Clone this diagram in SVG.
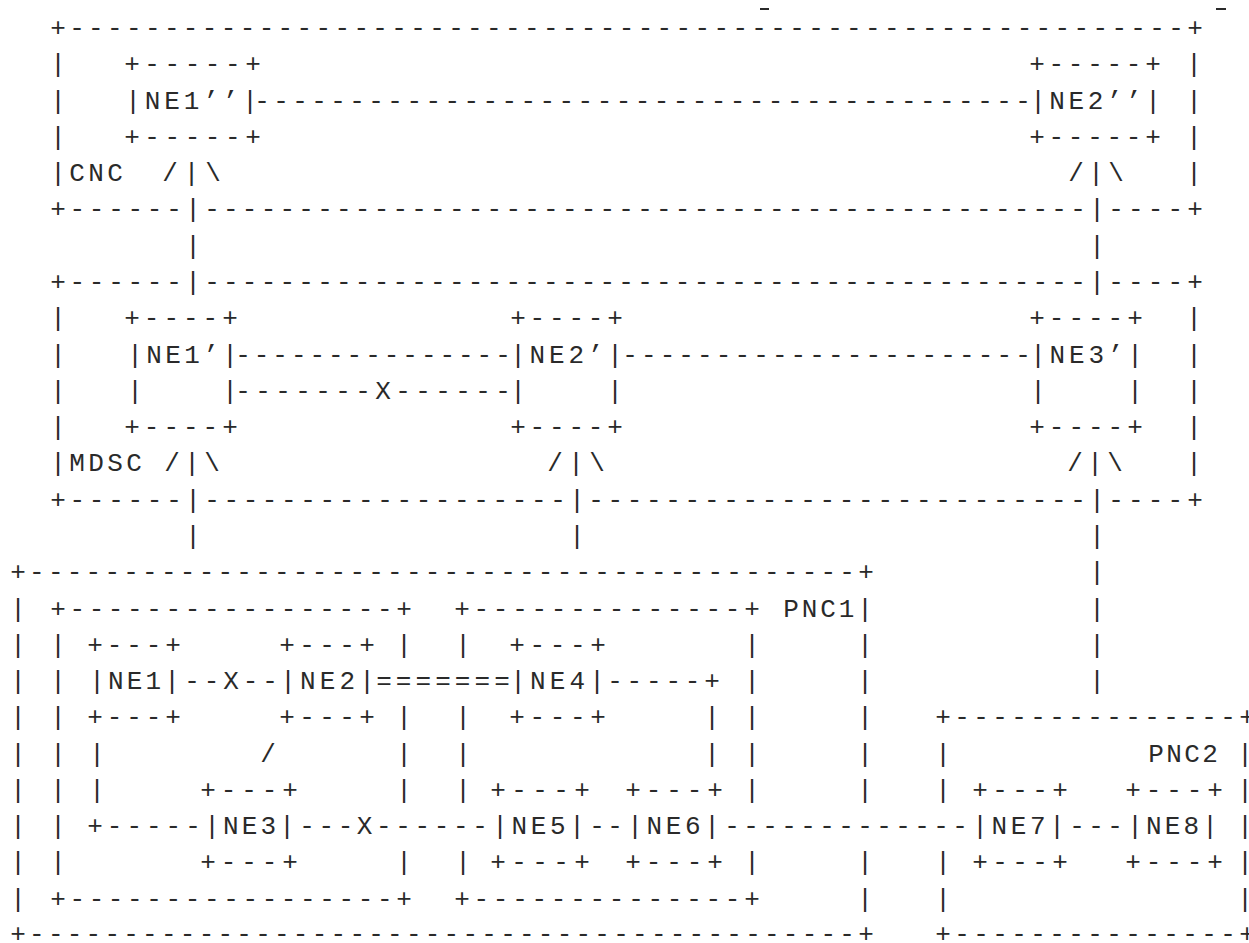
<svg xmlns="http://www.w3.org/2000/svg" width="1249" height="943" viewBox="0 0 1249 943">
<style>
.t{font-family:"Liberation Mono","DejaVu Sans Mono",monospace;font-size:26px;fill:#2a2a2a}
.frag{fill:#2a2a2a}
</style>
<rect width="1249" height="943" fill="#ffffff"/>
<g id="top-fragments">
<rect class="frag" x="760" y="8" width="9" height="2"/>
<rect class="frag" x="1216" y="8" width="10" height="2"/>
</g>
<g id="cnc">
<text class="t" x="50.2" y="36" textLength="1152.6">+-----------------------------------------------------------+</text>
<text class="t" x="50.2" y="72.3">|</text><text class="t" x="1186.2" y="72.3">|</text>
<text class="t" x="50.2" y="108.6">|</text><text class="t" x="1186.2" y="108.6">|</text>
<text class="t" x="50.2" y="144.8">|</text><text class="t" x="1186.2" y="144.8">|</text>
<text class="t" x="50.2" y="181.1" textLength="72.6">|CNC</text><text class="t" x="1186.2" y="181.1">|</text>
<text class="t" x="50.2" y="217.4" textLength="131.6">+------</text>
<text class="t" x="204.2" y="217.4" textLength="881.6">-----------------------------------------------</text>
<text class="t" x="1108.2" y="217.4" textLength="94.6">----+</text>
</g>
<g id="ne1pp">
<text class="t" x="124.2" y="72.3" textLength="136.6">+-----+</text>
<text class="t" x="125.2" y="108.6" textLength="132.6">|NE1’’|</text>
<text class="t" x="124.2" y="144.8" textLength="136.6">+-----+</text>
</g>
<g id="ne2pp">
<text class="t" x="1029.2" y="72.3" textLength="131.6">+-----+</text>
<text class="t" x="1030.2" y="108.6" textLength="130.6">|NE2’’|</text>
<text class="t" x="1029.2" y="144.8" textLength="131.6">+-----+</text>
</g>
<g id="mdsc">
<text class="t" x="50.2" y="290" textLength="131.6">+------</text>
<text class="t" x="204.2" y="290" textLength="881.6">-----------------------------------------------</text>
<text class="t" x="1108.2" y="290" textLength="94.6">----+</text>
<text class="t" x="50.2" y="326.2">|</text><text class="t" x="1186.2" y="326.2">|</text>
<text class="t" x="50.2" y="362.5">|</text><text class="t" x="1186.2" y="362.5">|</text>
<text class="t" x="50.2" y="398.8">|</text><text class="t" x="1186.2" y="398.8">|</text>
<text class="t" x="50.2" y="435.1">|</text><text class="t" x="1186.2" y="435.1">|</text>
<text class="t" x="50.2" y="471.4" textLength="91.6">|MDSC</text><text class="t" x="1186.2" y="471.4">|</text>
<text class="t" x="50.2" y="507.6" textLength="131.6">+------</text>
<text class="t" x="204.2" y="507.6" textLength="361.6">-------------------</text>
<text class="t" x="588.2" y="507.6" textLength="497.6">--------------------------</text>
<text class="t" x="1108.2" y="507.6" textLength="94.6">----+</text>
</g>
<g id="ne1p">
<text class="t" x="124.2" y="326.2" textLength="113.6">+----+</text>
<text class="t" x="127.2" y="362.5" textLength="110.6">|NE1’|</text>
<text class="t" x="127.2" y="398.8">|</text><text class="t" x="222.2" y="398.8">|</text>
<text class="t" x="124.2" y="435.1" textLength="113.6">+----+</text>
</g>
<g id="ne2p">
<text class="t" x="510.2" y="326.2" textLength="112.6">+----+</text>
<text class="t" x="510.2" y="362.5" textLength="112.6">|NE2’|</text>
<text class="t" x="510.2" y="398.8">|</text><text class="t" x="607.2" y="398.8">|</text>
<text class="t" x="510.2" y="435.1" textLength="112.6">+----+</text>
</g>
<g id="ne3p">
<text class="t" x="1029.2" y="326.2" textLength="113.6">+----+</text>
<text class="t" x="1030.2" y="362.5" textLength="112.6">|NE3’|</text>
<text class="t" x="1030.2" y="398.8">|</text><text class="t" x="1127.2" y="398.8">|</text>
<text class="t" x="1029.2" y="435.1" textLength="113.6">+----+</text>
</g>
<g id="pnc1">
<text class="t" x="10.2" y="580.2" textLength="863.6">+--------------------------------------------+</text>
<text class="t" x="10.2" y="616.5">|</text>
<text class="t" x="10.2" y="652.8">|</text>
<text class="t" x="10.2" y="689">|</text>
<text class="t" x="10.2" y="725.3">|</text>
<text class="t" x="10.2" y="761.6">|</text>
<text class="t" x="10.2" y="797.9">|</text>
<text class="t" x="10.2" y="834.2">|</text>
<text class="t" x="10.2" y="870.4">|</text>
<text class="t" x="10.2" y="906.7">|</text>
<text class="t" x="783.2" y="616.5" textLength="89.6">PNC1|</text>
<text class="t" x="857.2" y="652.8">|</text>
<text class="t" x="857.2" y="689">|</text>
<text class="t" x="857.2" y="725.3">|</text>
<text class="t" x="857.2" y="761.6">|</text>
<text class="t" x="857.2" y="797.9">|</text>
<text class="t" x="857.2" y="870.4">|</text>
<text class="t" x="857.2" y="906.7">|</text>
<text class="t" x="10.2" y="942" textLength="863.6">+--------------------------------------------+</text>
</g>
<g id="pnc1-domain-a">
<text class="t" x="50.2" y="616.5" textLength="361.6">+-----------------+</text>
<text class="t" x="50.2" y="652.8">|</text><text class="t" x="396.2" y="652.8">|</text>
<text class="t" x="50.2" y="689">|</text>
<text class="t" x="50.2" y="725.3">|</text><text class="t" x="396.2" y="725.3">|</text>
<text class="t" x="50.2" y="761.6">|</text><text class="t" x="396.2" y="761.6">|</text>
<text class="t" x="50.2" y="797.9">|</text><text class="t" x="396.2" y="797.9">|</text>
<text class="t" x="50.2" y="834.2">|</text>
<text class="t" x="50.2" y="870.4">|</text><text class="t" x="396.2" y="870.4">|</text>
<text class="t" x="50.2" y="906.7" textLength="361.6">+-----------------+</text>
</g>
<g id="pnc1-domain-b">
<text class="t" x="454.2" y="616.5" textLength="305.6">+--------------+</text>
<text class="t" x="455.2" y="652.8">|</text><text class="t" x="744.2" y="652.8">|</text>
<text class="t" x="744.2" y="689">|</text>
<text class="t" x="455.2" y="725.3">|</text><text class="t" x="744.2" y="725.3">|</text>
<text class="t" x="455.2" y="761.6">|</text><text class="t" x="744.2" y="761.6">|</text>
<text class="t" x="455.2" y="797.9">|</text><text class="t" x="744.2" y="797.9">|</text>
<text class="t" x="455.2" y="870.4">|</text><text class="t" x="744.2" y="870.4">|</text>
<text class="t" x="454.2" y="906.7" textLength="305.6">+--------------+</text>
</g>
<g id="pnc2">
<text class="t" x="935.2" y="725.3" textLength="319.6">+---------------+</text>
<text class="t" x="935.2" y="761.6">|</text><text class="t" x="1237.2" y="761.6">|</text>
<text class="t" x="1148.2" y="761.6" textLength="69.6">PNC2</text>
<text class="t" x="935.2" y="797.9">|</text><text class="t" x="1237.2" y="797.9">|</text>
<text class="t" x="1237.2" y="834.2">|</text>
<text class="t" x="935.2" y="870.4">|</text><text class="t" x="1237.2" y="870.4">|</text>
<text class="t" x="935.2" y="906.7">|</text><text class="t" x="1237.2" y="906.7">|</text>
<text class="t" x="935.2" y="942" textLength="319.6">+---------------+</text>
</g>
<g id="ne1">
<text class="t" x="87.2" y="652.8" textLength="93.6">+---+</text>
<text class="t" x="89.2" y="689" textLength="90.6">|NE1|</text>
<text class="t" x="87.2" y="725.3" textLength="93.6">+---+</text>
</g>
<g id="ne2">
<text class="t" x="279.2" y="652.8" textLength="95.6">+---+</text>
<text class="t" x="280.2" y="689" textLength="94.6">|NE2|</text>
<text class="t" x="279.2" y="725.3" textLength="95.6">+---+</text>
</g>
<g id="ne4">
<text class="t" x="509.2" y="652.8" textLength="96.6">+---+</text>
<text class="t" x="510.2" y="689" textLength="94.6">|NE4|</text>
<text class="t" x="509.2" y="725.3" textLength="96.6">+---+</text>
</g>
<g id="ne3">
<text class="t" x="200.2" y="797.9" textLength="97.6">+---+</text>
<text class="t" x="204.2" y="834.2" textLength="90.6">|NE3|</text>
<text class="t" x="200.2" y="870.4" textLength="97.6">+---+</text>
</g>
<g id="ne5">
<text class="t" x="490.2" y="797.9" textLength="99.6">+---+</text>
<text class="t" x="492.2" y="834.2" textLength="92.6">|NE5|</text>
<text class="t" x="490.2" y="870.4" textLength="99.6">+---+</text>
</g>
<g id="ne6">
<text class="t" x="625.2" y="797.9" textLength="97.6">+---+</text>
<text class="t" x="627.2" y="834.2" textLength="92.6">|NE6|</text>
<text class="t" x="625.2" y="870.4" textLength="97.6">+---+</text>
</g>
<g id="ne7">
<text class="t" x="972.2" y="797.9" textLength="95.6">+---+</text>
<text class="t" x="972.2" y="834.2" textLength="92.6">|NE7|</text>
<text class="t" x="972.2" y="870.4" textLength="95.6">+---+</text>
</g>
<g id="ne8">
<text class="t" x="1125.2" y="797.9" textLength="97.6">+---+</text>
<text class="t" x="1127.2" y="834.2" textLength="90.6">|NE8|</text>
<text class="t" x="1125.2" y="870.4" textLength="97.6">+---+</text>
</g>
<g id="connectors">
<text class="t" x="254.2" y="108.6" textLength="776.6">-----------------------------------------</text>
<text class="t" x="162.2" y="181.1" textLength="58.6">/|\</text>
<text class="t" x="1068.2" y="181.1" textLength="55.6">/|\</text>
<text class="t" x="185.2" y="217.4">|</text><text class="t" x="1089.2" y="217.4">|</text>
<text class="t" x="185.2" y="253.7">|</text><text class="t" x="1089.2" y="253.7">|</text>
<text class="t" x="185.2" y="290">|</text><text class="t" x="1089.2" y="290">|</text>
<text class="t" x="235.2" y="362.5" textLength="275.6">---------------</text>
<text class="t" x="622.2" y="362.5" textLength="408.6">----------------------</text>
<text class="t" x="235.2" y="398.8" textLength="275.6">-------X------</text>
<text class="t" x="164.2" y="471.4" textLength="55.6">/|\</text>
<text class="t" x="547.2" y="471.4" textLength="57.6">/|\</text>
<text class="t" x="1067.2" y="471.4" textLength="55.6">/|\</text>
<text class="t" x="185.2" y="507.6">|</text><text class="t" x="569.2" y="507.6">|</text><text class="t" x="1089.2" y="507.6">|</text>
<text class="t" x="185.2" y="543.9">|</text><text class="t" x="569.2" y="543.9">|</text><text class="t" x="1089.2" y="543.9">|</text>
<text class="t" x="1089.2" y="580.2">|</text>
<text class="t" x="1089.2" y="616.5">|</text>
<text class="t" x="1089.2" y="652.8">|</text>
<text class="t" x="1089.2" y="689">|</text>
<text class="t" x="184.2" y="689" textLength="93.6">--X--</text>
<text class="t" x="376.2" y="689" textLength="133.6">=======</text>
<text class="t" x="607.2" y="689" textLength="112.6">-----+</text>
<text class="t" x="704.2" y="725.3">|</text>
<text class="t" x="704.2" y="761.6">|</text>
<text class="t" x="89.2" y="761.6">|</text>
<text class="t" x="89.2" y="797.9">|</text>
<text class="t" x="260.2" y="761.6">/</text>
<text class="t" x="87.2" y="834.2" textLength="113.6">+-----</text>
<text class="t" x="299.2" y="834.2" textLength="188.6">---X------</text>
<text class="t" x="589.2" y="834.2" textLength="33.6">--</text>
<text class="t" x="724.2" y="834.2" textLength="243.6">-------------</text>
<text class="t" x="1069.2" y="834.2" textLength="53.6">---</text>
</g>
</svg>
